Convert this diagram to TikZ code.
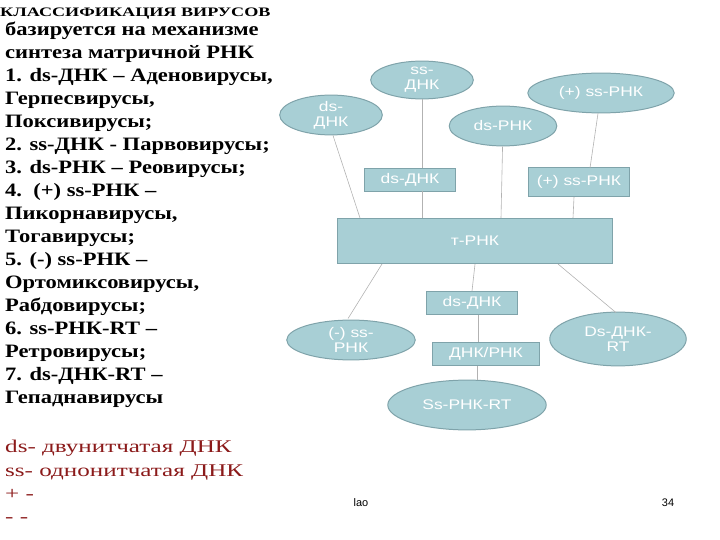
\documentclass[tikz,border=0pt]{standalone}
\usepackage{fontspec}
\setmainfont{Liberation Serif}
\newfontfamily\arial{Liberation Sans}
\usetikzlibrary{shapes.geometric}
\definecolor{fillb}{HTML}{A8CFD5}
\definecolor{edgeb}{HTML}{7FA3AA}
\definecolor{darkred}{HTML}{8B1A1A}
\newcommand{\wx}[2]{\scalebox{#1}[1]{#2}}
\tikzset{
 ell/.style={ellipse,draw=edgeb,fill=fillb,line width=1pt,inner sep=0pt,text=white,font=\arial\fontsize{14}{15}\selectfont,align=center},
 box/.style={rectangle,draw=edgeb,fill=fillb,line width=1pt,inner sep=0pt,text=white,font=\arial\fontsize{14}{15}\selectfont,align=center},
 conn/.style={draw=gray!60,line width=0.6pt}
}
\begin{document}
\begin{tikzpicture}[x=1bp,y=-1bp]
\useasboundingbox (0,0) rectangle (720,540);
\node[anchor=west,inner sep=0pt,font=\bfseries\fontsize{13}{14}\selectfont] (title) at (0,14) {\wx{1.4}{КЛАССИФИКАЦИЯ ВИРУСОВ}};
\node[anchor=north west,inner sep=0pt,font=\bfseries\fontsize{19}{23.1}\selectfont,align=left] (list) at (5,22) {\wx{1.19}{базируется на механизме}\\\wx{1.19}{синтеза матричной РНК}\\\wx{1.19}{1. ds-ДНК – Аденовирусы,}\\\wx{1.19}{Герпесвирусы,}\\\wx{1.19}{Поксивирусы;}\\\wx{1.19}{2. ss-ДНК - Парвовирусы;}\\\wx{1.19}{3. ds-РНК – Реовирусы;}\\\wx{1.19}{4.\ \ (+) ss-РНК –}\\\wx{1.19}{Пикорнавирусы,}\\\wx{1.19}{Тогавирусы;}\\\wx{1.19}{5. (-) ss-РНК –}\\\wx{1.19}{Ортомиксовирусы,}\\\wx{1.19}{Рабдовирусы;}\\\wx{1.19}{6. ss-РНК-RT –}\\\wx{1.19}{Ретровирусы;}\\\wx{1.19}{7. ds-ДНК-RT –}\\\wx{1.19}{Гепаднавирусы}};
\node[anchor=north west,inner sep=0pt,text=darkred,font=\fontsize{18}{23.5}\selectfont,align=left] (legend) at (5,440) {\wx{1.4}{ds- двунитчатая ДНК}\\\wx{1.4}{ss- однонитчатая ДНК}\\\wx{1.4}{+ -}\\\wx{1.4}{- -}};
\node[font=\arial\fontsize{11}{12}\selectfont] (lao) at (361,503) {lao};
\node[font=\arial\fontsize{11}{12}\selectfont] (pg) at (668,503) {34};

\node[box,minimum width=276,minimum height=46] (t) at (475,241) {\wx{1.25}{т-РНК}};
\node[ell,minimum width=103,minimum height=38] (ssd) at (422,80) {\wx{1.25}{ss-}\\\wx{1.25}{ДНК}};
\node[ell,minimum width=103,minimum height=40] (dsd) at (331,115) {\wx{1.25}{ds-}\\\wx{1.25}{ДНК}};
\node[ell,minimum width=147,minimum height=40] (pss) at (601,93) {\wx{1.25}{(+) ss-РНК}};
\node[ell,minimum width=108,minimum height=40] (dsr) at (503,126) {\wx{1.25}{ds-РНК}};
\node[box,minimum width=91,minimum height=23] (b1) at (410,180) {\wx{1.25}{ds-ДНК}};
\node[box,minimum width=102,minimum height=29] (b2) at (579,182) {\wx{1.25}{(+) ss-РНК}};
\node[box,minimum width=91,minimum height=23] (b3) at (472,303) {\wx{1.25}{ds-ДНК}};
\node[box,minimum width=108,minimum height=24] (b4) at (486,354) {\wx{1.25}{ДНК/РНК}};
\node[ell,minimum width=129,minimum height=40] (mss) at (351,340) {\wx{1.25}{(-) ss-}\\\wx{1.25}{РНК}};
\node[ell,minimum width=137,minimum height=54] (dsrt) at (618,339) {\wx{1.25}{Ds-ДНК-}\\\wx{1.25}{RT}};
\node[ell,minimum width=159,minimum height=50] (ssrt) at (467,405) {\wx{1.25}{Ss-РНК-RT}};

\draw[conn] (dsd.south) ++(2,0) -- (360,218);
\draw[conn] (ssd) -- (422,168);
\draw[conn] (422,191) -- (422,218);
\draw[conn] (dsr) -- (501,218);
\draw[conn] (pss.south) ++(-3,0) -- (590,168);
\draw[conn] (b2.south) ++(-5,0) -- (573,218);
\draw[conn] (mss.north) ++(-3,-1) -- (382,264);
\draw[conn] (b3.north) -- (475,264);
\draw[conn] (478,342) -- (478,315);
\draw[conn] (ssrt.north) ++(10,0) -- (477,366);
\draw[conn] (dsrt.north) ++(-2,1) -- (558,264);
\end{tikzpicture}
\end{document}
